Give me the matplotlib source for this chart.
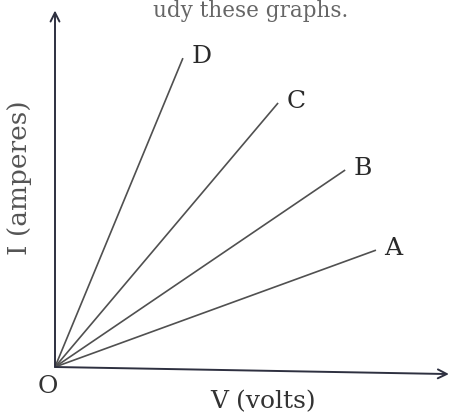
import matplotlib.pyplot as plt

plt.rcParams['font.family'] = ['DejaVu Serif', 'Liberation Serif']

# Ending points of the four I-V lines (V in arbitrary units, I in arbitrary units)
names = ['A', 'B', 'C', 'D']
v_end = [8.23, 7.44, 5.72, 3.28]
i_end = [3.31, 5.58, 7.48, 8.75]

W, H = 449, 414
fig = plt.figure(figsize=(W / 100, H / 100), dpi=100)
fig.patch.set_facecolor('white')

# axes placed so that the origin lands at about (55, 368) px
x0, y0 = 55, 368
ax = fig.add_axes([x0 / W, (H - y0) / H, (445 - x0) / W, (y0 - 15) / H])
ax.set_xlim(0, 10)
ax.set_ylim(0, 10)
ax.axis('off')

ink = '#333333'
for name, v, i in zip(names, v_end, i_end):
    ax.plot([0, v], [0, i], color='#505050', lw=1.2, solid_capstyle='butt')
    ax.annotate(name, (v, i), xytext=(6, 2), textcoords='offset points',
                ha='left', va='center', fontsize=18, color='#2a2a2a')

# axis arrows (the scanned x axis sags a little towards the right)
arrow = dict(arrowstyle='->', color='#2e3040', lw=1.4,
             mutation_scale=16, shrinkA=0, shrinkB=0)
ax.annotate('', xy=(0, 1.01), xytext=(0, 0), xycoords='axes fraction', arrowprops=arrow)
ax.annotate('', xy=(1.01, -0.02), xytext=(0, 0), xycoords='axes fraction', arrowprops=arrow)

fig.text(48 / W, 1 - 387 / H, 'O', ha='center', va='center', fontsize=18, color=ink)
fig.text(263 / W, 1 - 408 / H, 'V (volts)', ha='center', va='baseline', fontsize=18, color=ink)
fig.text(20 / W, 1 - 178 / H, 'I (amperes)', ha='center', va='center', rotation=90,
         fontsize=19, color='#555555')
fig.text(348 / W, 1 - 17 / H, 'udy these graphs.', ha='right', va='baseline',
         fontsize=15.5, color='#666666')

fig.savefig('out.png', dpi=100)
